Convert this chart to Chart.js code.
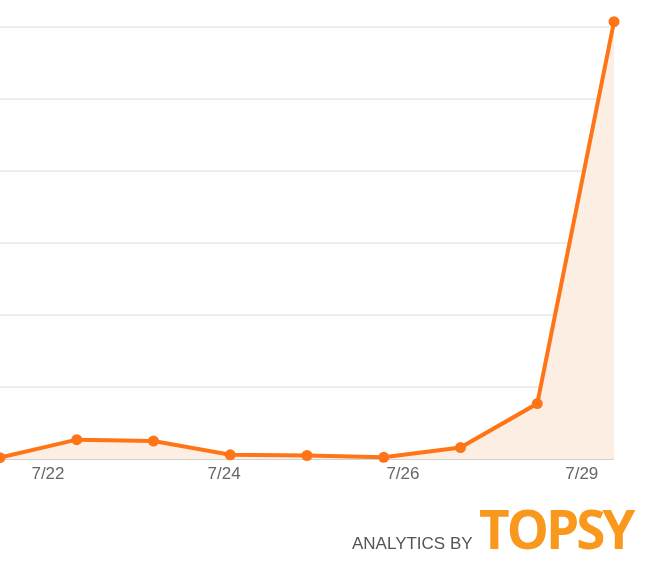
<!DOCTYPE html>
<html>
<head>
<meta charset="utf-8">
<script src="https://cdn.jsdelivr.net/npm/chart.js@4/dist/chart.umd.min.js"></script>
<style>
    body { margin: 0; background: #fff; }
    #wrap { position: relative; width: 650px; height: 574px; overflow: hidden; }
    #brand1 { position: absolute; left: 352px; top: 535px; font: 17px "Liberation Sans", Arial, sans-serif; line-height: 1; color: #555; white-space: nowrap; }
    #brand2 { position: absolute; left: 479px; top: 502px; font: bold 53px "Open Sans", sans-serif; line-height: 1; color: #f8981d; letter-spacing: -3px; white-space: nowrap; }
</style>
</head>
<body>
<div id="wrap">
    <canvas id="myChart"></canvas>
    <div id="brand1">ANALYTICS BY</div>
    <div id="brand2">TOPSY</div>
</div>
<script>
// data block
var days = ['7/21', '7/22', '7/23', '7/24', '7/25', '7/26', '7/27', '7/28', '7/29'];
var mentions = [2, 27, 25, 6, 5, 2.5, 16, 77, 607];
var tickValues = [0.625, 2.92, 5.25, 7.58];
var tickLabels = ['7/22', '7/24', '7/26', '7/29'];

var points = mentions.map((v, i) => ({ x: i, y: v }));

var data = {
    datasets: [{
        label: days.join(','),
        data: points,
        borderColor: '#ff7417',
        backgroundColor: '#fdeee4',
        borderWidth: 4,
        fill: 'origin',
        tension: 0,
        clip: false,
        pointRadius: 5.5,
        pointBackgroundColor: '#ff7417',
        pointBorderWidth: 0
    }]
};

//config block
const config = {
    type: 'line',
    data,
    options: {
        responsive: true,
        maintainAspectRatio: false,
        animation: false,
        layout: {
            autoPadding: false,
            padding: { left: 0, right: 36, top: 12.3, bottom: 92.5 }
        },
        plugins: {
            legend: { display: false },
            tooltip: { enabled: false }
        },
        scales: {
            x: {
                type: 'linear',
                min: 0,
                max: days.length - 1,
                afterBuildTicks: function(axis) {
                    axis.ticks = tickValues.map(v => ({ value: v }));
                },
                ticks: {
                    autoSkip: false,
                    maxRotation: 0,
                    padding: -3,
                    color: '#666',
                    font: { family: '"Liberation Sans", Arial', size: 17 },
                    callback: function(value, index) {
                        return tickLabels[index];
                    }
                },
                grid: { display: false },
                border: { display: false }
            },
            y: {
                min: 0,
                max: 620,
                afterBuildTicks: function(axis) {
                    axis.ticks = axis.ticks.filter(t => t.value % 100 === 0);
                },
                ticks: { display: false, stepSize: 100 },
                grid: {
                    drawTicks: false,
                    lineWidth: 2,
                    color: function(ctx) {
                        return ctx.tick && ctx.tick.value === 0 ? '#d2d2d2' : '#ededed';
                    }
                },
                border: { display: false }
            }
        }
    }
};

//render block
const myChart = new Chart(
    document.getElementById('myChart'),
    config
);
</script>
</body>
</html>
